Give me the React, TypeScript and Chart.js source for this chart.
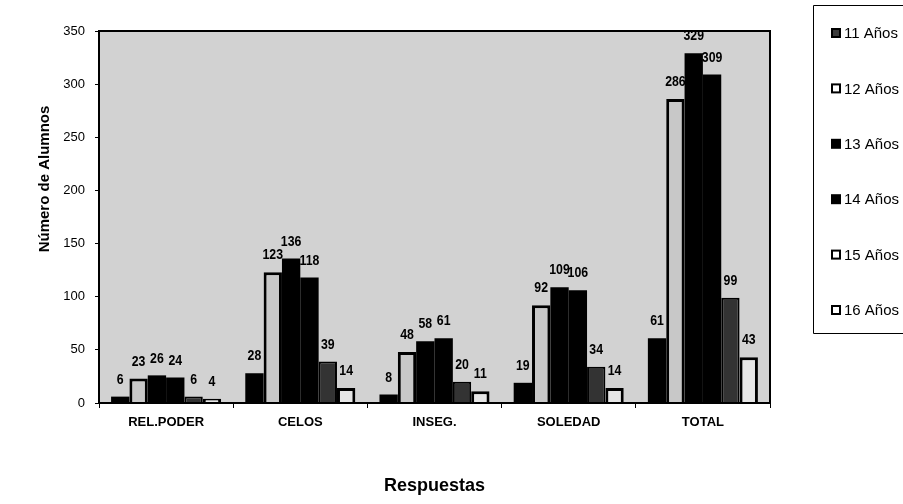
import React, { useEffect, useRef } from "react";
import { Chart, registerables } from "chart.js";

Chart.register(...registerables);

const categories = ["REL.PODER", "CELOS", "INSEG.", "SOLEDAD", "TOTAL"];
const seriesNames = ["11 Años", "12 Años", "13 Años", "14 Años", "15 Años", "16 Años"];
const age11 = [6, 28, 8, 19, 61];
const age12 = [23, 123, 48, 92, 286];
const age13 = [26, 136, 58, 109, 329];
const age14 = [24, 118, 61, 106, 309];
const age15 = [6, 39, 20, 34, 99];
const age16 = [4, 14, 11, 14, 43];
const yTicks = [0, 50, 100, 150, 200, 250, 300, 350];

const FONT = '"Liberation Sans", Arial, sans-serif';

const fills = ["#000000", "#c8c8c8", "#000000", "#000000", "#333333", "#e6e6e6"];
const borders = [0, 3, 0, 0, 2, 3];
const legendFills = ["#3c3c3c", "#ffffff", "#000000", "#000000", "#ffffff", "#ffffff"];

const framePlugin = {
  id: "frame",
  beforeDraw(chart: any) {
    const { ctx, chartArea: a } = chart;
    ctx.save();
    ctx.fillStyle = "#d2d2d2";
    ctx.fillRect(a.left, a.top, a.right - a.left, a.bottom - a.top);
    ctx.restore();
  },
  beforeDatasetsDraw(chart: any) {
    const { ctx, chartArea: a } = chart;
    ctx.save();
    ctx.strokeStyle = "#000";
    ctx.lineWidth = 2;
    ctx.strokeRect(a.left, a.top, a.right - a.left, a.bottom - a.top);
    // value labels (drawn before bars so neighbouring bars may cover them)
    ctx.fillStyle = "#000";
    ctx.font = "bold 15px " + FONT;
    ctx.textAlign = "center";
    ctx.textBaseline = "middle";
    chart.data.datasets.forEach((ds: any, i: number) => {
      const meta = chart.getDatasetMeta(i);
      meta.data.forEach((el: any, j: number) => {
        ctx.save();
        ctx.translate(el.x, el.y - 17);
        ctx.scale(0.82, 1);
        ctx.fillText(String(ds.data[j]), 0, 0);
        ctx.restore();
      });
    });
    ctx.restore();
  },
  afterDatasetsDraw(chart: any) {
    const { ctx, chartArea: a } = chart;
    ctx.save();
    ctx.strokeStyle = "#000";
    ctx.lineWidth = 2;
    ctx.beginPath();
    ctx.moveTo(a.left - 1, a.bottom);
    ctx.lineTo(a.right + 1, a.bottom);
    ctx.stroke();
    ctx.restore();
  },
  afterDraw(chart: any) {
    const { ctx, chartArea: a } = chart;
    ctx.save();
    ctx.fillStyle = "#000";
    // y axis title
    ctx.font = "bold 15px " + FONT;
    ctx.textAlign = "center";
    ctx.textBaseline = "middle";
    ctx.save();
    ctx.translate(45, 179);
    ctx.rotate(-Math.PI / 2);
    ctx.fillText("Número de Alumnos", 0, 0);
    ctx.restore();
    // x axis title
    ctx.font = "bold 18px " + FONT;
    ctx.fillText("Respuestas", (a.left + a.right) / 2, 486);
    // legend
    ctx.strokeStyle = "#000";
    ctx.lineWidth = 1;
    ctx.beginPath();
    ctx.moveTo(903, 5.5);
    ctx.lineTo(813.5, 5.5);
    ctx.lineTo(813.5, 333.5);
    ctx.lineTo(903, 333.5);
    ctx.stroke();
    ctx.font = "15px " + FONT;
    ctx.textAlign = "left";
    chart.data.datasets.forEach((ds: any, i: number) => {
      const cy = 33 + i * 55.4;
      ctx.fillStyle = legendFills[i];
      ctx.fillRect(832, cy - 4, 8, 8);
      ctx.strokeStyle = "#000";
      ctx.lineWidth = 2;
      ctx.strokeRect(832, cy - 4, 8, 8);
      ctx.fillStyle = "#000";
      ctx.fillText(ds.label, 844, cy + 1);
    });
    ctx.restore();
  },
};

export default function App() {
  const ref = useRef<HTMLCanvasElement | null>(null);
  useEffect(() => {
    if (!ref.current) return;
    const series = [age11, age12, age13, age14, age15, age16];
    const chart = new Chart(ref.current, {
      type: "bar",
      data: {
        labels: categories,
        datasets: series.map((d, i) => ({
          label: seriesNames[i],
          data: d,
          backgroundColor: fills[i],
          borderColor: "#000000",
          borderWidth: borders[i],
          categoryPercentage: 0.82,
          barPercentage: 1,
        })),
      },
      options: {
        responsive: false,
        animation: false,
        layout: { padding: { left: 0, top: 31, right: 133, bottom: 0 } },
        plugins: { legend: { display: false }, tooltip: { enabled: false } },
        scales: {
          x: {
            afterFit: (s: any) => { s.height = 101; },
            grid: { drawOnChartArea: false, tickLength: 5, color: "#000", offset: true },
            border: { display: false },
            ticks: { color: "#000", font: { family: FONT, size: 13, weight: "bold" }, padding: 7 },
          },
          y: {
            min: 0,
            max: 350,
            afterFit: (s: any) => { s.width = 99; },
            afterBuildTicks: (s: any) => { s.ticks = yTicks.map((v) => ({ value: v })); },
            grid: { drawOnChartArea: false, tickLength: 4, color: "#000" },
            border: { display: false },
            ticks: { color: "#000", font: { family: FONT, size: 13 }, padding: 10 },
          },
        },
      },
      plugins: [framePlugin],
    });
    return () => chart.destroy();
  }, []);
  return (
    <div style={{ position: "absolute", left: 0, top: 0, width: 903, height: 504, background: "#fff" }}>
      <canvas ref={ref} width={903} height={504} style={{ width: 903, height: 504 }} />
    </div>
  );
}
